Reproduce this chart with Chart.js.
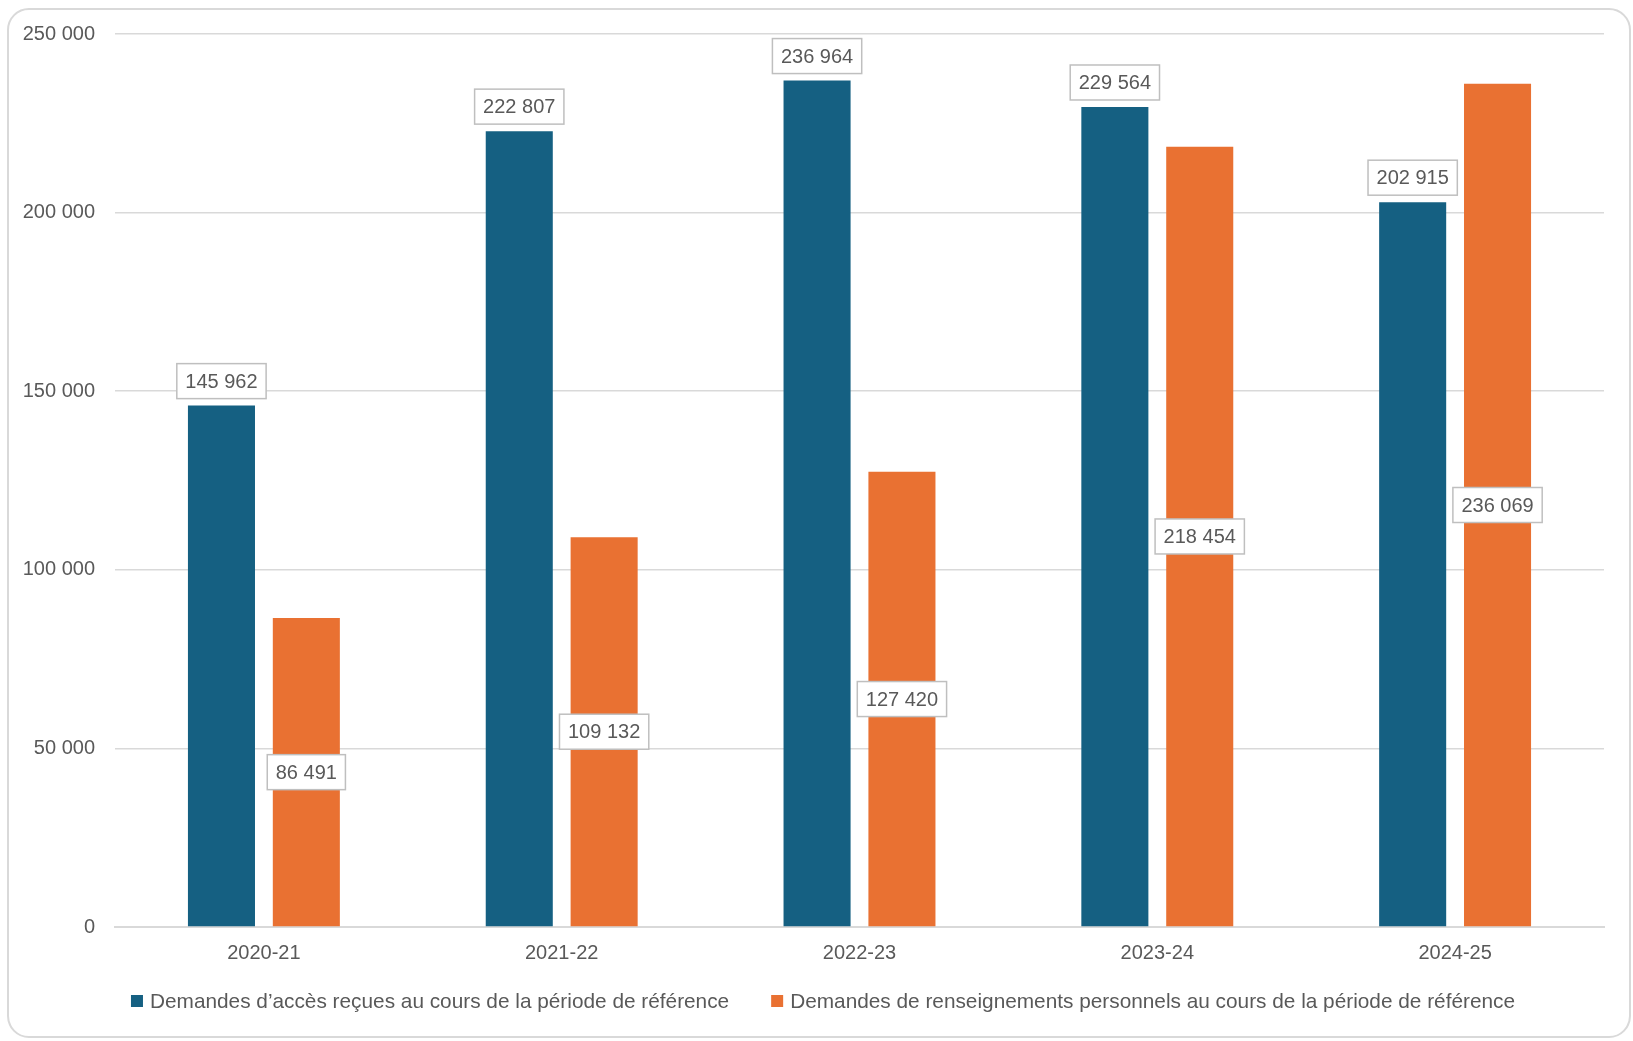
<!DOCTYPE html>
<html>
<head>
<meta charset="utf-8">
<script src="https://cdn.jsdelivr.net/npm/chart.js@4"></script>
<style>
  html, body { margin: 0; padding: 0; background: #fff; }
  #wrap { position: relative; width: 1633px; height: 1041px; }
  #frame {
    position: absolute; left: 7px; top: 8px; width: 1620px; height: 1026px;
    border: 2px solid #d9d9d9; border-radius: 22px; pointer-events: none;
  }
  canvas { position: absolute; left: 0; top: 0; }
</style>
</head>
<body>
<div id="wrap">
  <canvas id="chart" width="1633" height="1041"></canvas>
  <div id="frame"></div>
</div>
<script>
var years = ["2020-21", "2021-22", "2022-23", "2023-24", "2024-25"];
var accessRequests = [145962, 222807, 236964, 229564, 202915];
var personalInfoRequests = [86491, 109132, 127420, 218454, 236069];
var seriesNames = [
  "Demandes d\u2019acc\u00e8s re\u00e7ues au cours de la p\u00e9riode de r\u00e9f\u00e9rence",
  "Demandes de renseignements personnels au cours de la p\u00e9riode de r\u00e9f\u00e9rence"
];
var yTicks = [0, 50000, 100000, 150000, 200000, 250000];

var FONT = "'Liberation Sans', Arial, sans-serif";
var GREY = "#595959";

function fmt(v) {
  return String(v).replace(/\B(?=(\d{3})+(?!\d))/g, " ");
}

// boxed value labels: above the bar for series 1, centred in the bar for series 2
var boxLabels = {
  id: "boxLabels",
  afterDatasetsDraw: function (chart) {
    var ctx = chart.ctx;
    ctx.save();
    ctx.font = "20px " + FONT;
    ctx.textAlign = "center";
    ctx.textBaseline = "middle";
    chart.data.datasets.forEach(function (ds, di) {
      var meta = chart.getDatasetMeta(di);
      meta.data.forEach(function (bar, i) {
        var txt = fmt(ds.data[i]);
        var w = ctx.measureText(txt).width + 17;
        var h = 35;
        var cy = di === 0 ? bar.y - 7 - h / 2 : (bar.y + bar.base) / 2;
        ctx.fillStyle = "#fff";
        ctx.fillRect(bar.x - w / 2, cy - h / 2, w, h);
        ctx.strokeStyle = "#bfbfbf";
        ctx.lineWidth = 1.5;
        ctx.strokeRect(bar.x - w / 2, cy - h / 2, w, h);
        ctx.fillStyle = GREY;
        ctx.fillText(txt, bar.x, cy + 1);
      });
    });
    ctx.restore();
  }
};

// legend row under the axis, spaced like the original
var bottomLegend = {
  id: "bottomLegend",
  afterDraw: function (chart) {
    var ctx = chart.ctx;
    var box = 12, gap = 7, itemGap = 42, cx = 823, cy = 1001;
    ctx.save();
    ctx.font = "20.8px " + FONT;
    ctx.textBaseline = "middle";
    var items = chart.data.datasets.map(function (ds) {
      return { text: ds.label, color: ds.backgroundColor, w: ctx.measureText(ds.label).width };
    });
    var total = 0;
    items.forEach(function (it, i) { total += box + gap + it.w + (i ? itemGap : 0); });
    var x = cx - total / 2;
    items.forEach(function (it, i) {
      if (i) x += itemGap;
      ctx.fillStyle = it.color;
      ctx.fillRect(x, cy - box / 2, box, box);
      x += box + gap;
      ctx.fillStyle = GREY;
      ctx.fillText(it.text, x, cy + 1);
      x += it.w;
    });
    ctx.restore();
  }
};

var ctx = document.getElementById("chart").getContext("2d");
new Chart(ctx, {
  type: "bar",
  data: {
    labels: years,
    datasets: [
      {
        label: seriesNames[0],
        data: accessRequests,
        backgroundColor: "#156082",
        categoryPercentage: 0.57,
        barPercentage: 0.79
      },
      {
        label: seriesNames[1],
        data: personalInfoRequests,
        backgroundColor: "#E97132",
        categoryPercentage: 0.57,
        barPercentage: 0.79
      }
    ]
  },
  options: {
    responsive: false,
    animation: false,
    layout: { padding: { top: 34, right: 29, bottom: 62, left: 0 } },
    scales: {
      x: {
        grid: { display: false, drawTicks: false },
        border: { color: "#d9d9d9", width: 2 },
        ticks: { color: GREY, font: { family: FONT, size: 20 }, padding: 14, autoSkip: false, maxRotation: 0 }
      },
      y: {
        min: 0,
        max: 250000,
        afterFit: function (scale) { scale.width = 115; },
        afterBuildTicks: function (scale) {
          scale.ticks = yTicks.map(function (v) { return { value: v }; });
        },
        grid: { color: "#d9d9d9", lineWidth: 1.5, drawTicks: false },
        border: { display: false },
        ticks: {
          color: GREY,
          font: { family: FONT, size: 20 },
          padding: 20,
          callback: function (v) { return fmt(v); }
        }
      }
    },
    plugins: {
      legend: { display: false },
      tooltip: { enabled: false }
    }
  },
  plugins: [boxLabels, bottomLegend]
});
</script>
</body>
</html>
